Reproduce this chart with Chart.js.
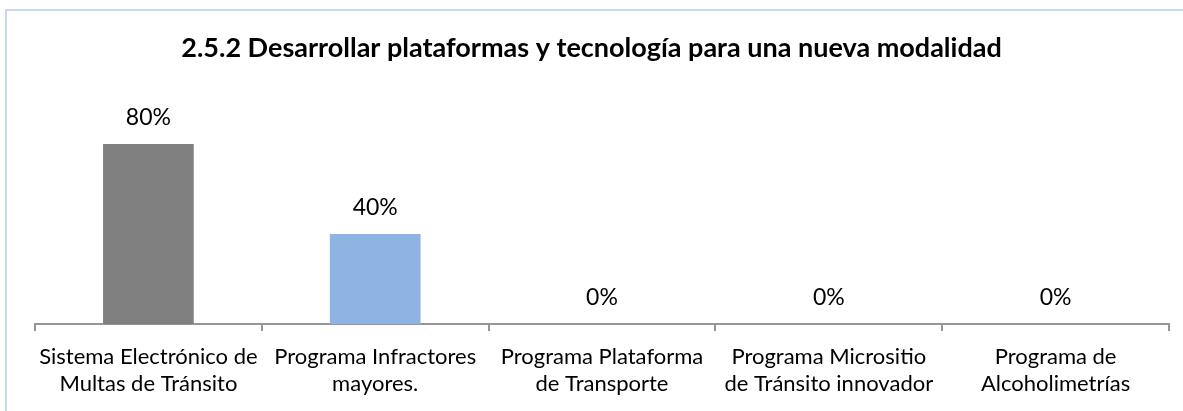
<!DOCTYPE html>
<html>
<head>
<meta charset="utf-8">
<script src="https://cdn.jsdelivr.net/npm/chart.js@4"></script>
<style>
    body { margin: 0; background: #fff; }
    #frame {
        position: absolute; left: 5px; top: 9px; width: 1200px; height: 420px;
        border-left: 2px solid #c6d9f1; border-top: 2px solid #c6d9f1;
    }
    #wrap { position: absolute; left: 0; top: 0; width: 1183px; height: 411px; }
</style>
</head>
<body>
<div id="frame"></div>
<div id="wrap"><canvas id="barChart" width="1183" height="411"></canvas></div>
<script>
// Chart data
const chartTitle = '2.5.2 Desarrollar plataformas y tecnología para una nueva modalidad';
const categories = [
    ['Sistema Electrónico de', 'Multas de Tránsito'],
    ['Programa Infractores', 'mayores.'],
    ['Programa Plataforma', 'de Transporte'],
    ['Programa Micrositio', 'de Tránsito innovador'],
    ['Programa de', 'Alcoholimetrías']
];
const values = [80, 40, 0, 0, 0];
const barColors = ['#808080', '#8eb4e3', '#808080', '#808080', '#808080'];

const fontFamily = 'Lato, "Open Sans", sans-serif';

// Title centred on the whole canvas (the built-in one centres on the padded box)
const canvasTitle = {
    id: 'canvasTitle',
    afterDraw(chart) {
        const ctx = chart.ctx;
        ctx.save();
        ctx.font = 'bold 27px ' + fontFamily;
        ctx.fillStyle = '#000';
        ctx.textAlign = 'center';
        ctx.textBaseline = 'alphabetic';
        ctx.fillText(chartTitle, chart.width / 2, 57);
        ctx.restore();
    }
};

// Value labels above each bar
const valueLabels = {
    id: 'valueLabels',
    afterDatasetsDraw(chart) {
        const ctx = chart.ctx;
        const meta = chart.getDatasetMeta(0);
        ctx.save();
        ctx.font = '23px ' + fontFamily;
        ctx.fillStyle = '#000';
        ctx.textAlign = 'center';
        ctx.textBaseline = 'alphabetic';
        meta.data.forEach(function(bar, i) {
            ctx.fillText(values[i] + '%', bar.x, bar.y - 19);
        });
        ctx.restore();
    }
};

new Chart(document.getElementById('barChart'), {
    type: 'bar',
    data: {
        labels: categories,
        datasets: [{
            data: values,
            backgroundColor: barColors,
            categoryPercentage: 1,
            barPercentage: 0.4
        }]
    },
    options: {
        responsive: false,
        animation: false,
        layout: {
            padding: { left: 35, right: 14, top: 99, bottom: 1 }
        },
        plugins: {
            legend: { display: false },
            tooltip: { enabled: false },
            title: { display: false }
        },
        scales: {
            x: {
                grid: {
                    display: true,
                    drawOnChartArea: false,
                    drawTicks: true,
                    tickLength: 7,
                    color: '#969696',
                    lineWidth: 2
                },
                border: { color: '#969696', width: 2 },
                ticks: {
                    color: '#000',
                    maxRotation: 0,
                    autoSkip: false,
                    padding: 12,
                    font: { family: fontFamily, size: 22, lineHeight: 1.25 }
                }
            },
            y: {
                display: false,
                min: 0,
                max: 100
            }
        }
    },
    plugins: [valueLabels, canvasTitle]
});
</script>
</body>
</html>
